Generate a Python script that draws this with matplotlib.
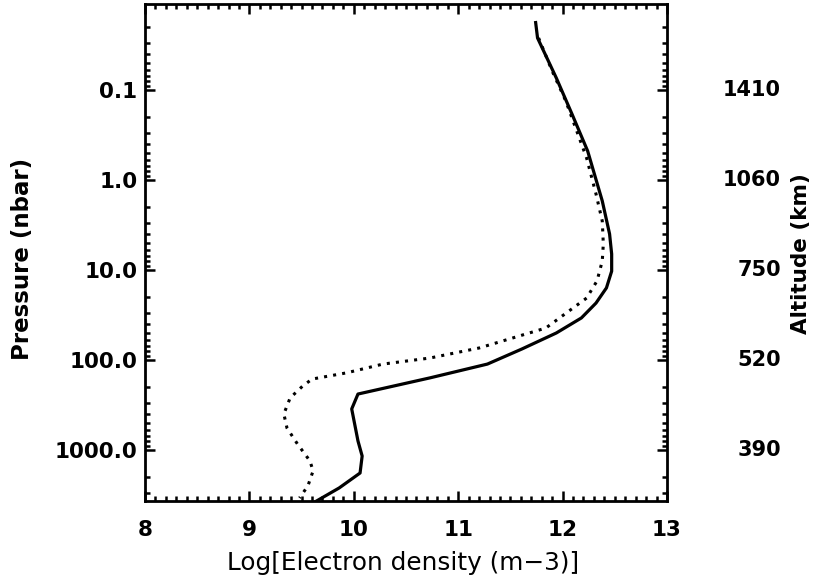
import numpy as np
import matplotlib
matplotlib.use("Agg")
import matplotlib.pyplot as plt
import matplotlib.transforms as mtransforms
from matplotlib.ticker import FixedLocator, LogLocator, MultipleLocator, NullFormatter

# ── Data ──────────────────────────────────────────────────────
# solid profile
solid_ne = [11.74, 11.76, 11.94, 12.09, 12.24, 12.38, 12.45, 12.47, 12.47, 12.42,
            12.32, 12.18, 11.94, 11.61, 11.28, 10.73, 10.04, 9.98, 10.04, 10.08,
            10.06, 9.86, 9.61]
solid_p = [0.0171, 0.0264, 0.0736, 0.185, 0.476, 1.71, 3.98, 6.64, 10.3, 15.8,
           23.3, 34.1, 50.1, 75.5, 111, 158, 239, 350, 794, 1167,
           1803, 2642, 3882]

# dotted profile
dotted_ne = [11.77, 11.90, 12.03, 12.23, 12.32, 12.38, 12.39, 12.38, 12.33, 12.23,
             12.06, 11.84, 11.52, 11.20, 10.73, 10.28, 9.93, 9.60, 9.51, 9.39,
             9.33, 9.36, 9.46, 9.58, 9.61, 9.56, 9.48]
dotted_p = [0.0264, 0.0615, 0.132, 0.570, 1.43, 2.86, 5.14, 7.94, 13.2, 20.5,
            28.6, 44.1, 57.0, 73.6, 95.1, 111, 139, 163, 195, 264,
            398, 570, 857, 1324, 1710, 2512, 3412]

p_ticks = [0.1, 1.0, 10.0, 100.0, 1000.0]
p_labels = ["0.1", "1.0", "10.0", "100.0", "1000.0"]
alt_labels = ["1410", "1060", "750", "520", "390"]
x_ticks = [8, 9, 10, 11, 12, 13]

# ── Figure ────────────────────────────────────────────────────
fig = plt.figure(figsize=(8.19, 5.81), dpi=100)
ax = fig.add_axes([145 / 819, 1 - 501 / 581, 522 / 819, 497 / 581])

ax.plot(dotted_ne, dotted_p, color="black", lw=2.2, linestyle=(0, (1, 2)),
        dash_capstyle="butt")
ax.plot(solid_ne, solid_p, color="black", lw=2.3, solid_capstyle="butt")

ax.set_yscale("log")
ax.set_xlim(8, 13)
ax.set_ylim(3690, 0.01107)

ax.xaxis.set_major_locator(FixedLocator(x_ticks))
ax.xaxis.set_minor_locator(MultipleLocator(0.1))
ax.yaxis.set_major_locator(FixedLocator(p_ticks))
ax.yaxis.set_minor_locator(LogLocator(base=10, subs=np.arange(2, 10)))
ax.yaxis.set_minor_formatter(NullFormatter())
ax.set_yticklabels(p_labels)
ax.set_xticklabels([str(t) for t in x_ticks])

for s in ax.spines.values():
    s.set_linewidth(2.0)
ax.tick_params(which="both", direction="in", top=True, right=True, width=1.8)
ax.tick_params(which="major", length=7)
ax.tick_params(which="minor", length=3.5)
ax.tick_params(axis="x", which="major", pad=14, labelsize=15.5)
ax.tick_params(axis="y", which="major", pad=5.5, labelsize=15.5)
for lbl in ax.get_xticklabels() + ax.get_yticklabels():
    lbl.set_fontweight("bold")

# axis titles
fig.text(403 / 819, 1 - 570 / 581, "Log[Electron density (m\u22123)]",
         ha="center", va="baseline", fontsize=17.8)
fig.text(23 / 819, 1 - 259 / 581, "Pressure (nbar)", rotation=90,
         ha="center", va="center", fontsize=16.5, fontweight="bold")

# altitude labels on the right
trans = mtransforms.blended_transform_factory(fig.transFigure, ax.transData)
for p, a in zip(p_ticks, alt_labels):
    ax.text(781 / 819, p, a, transform=trans, ha="right", va="center",
            fontsize=15, fontweight="bold")
fig.text(801 / 819, 1 - 254 / 581, "Altitude (km)", rotation=90, ha="center",
         va="center", fontsize=15.5, fontweight="bold")

fig.savefig("out.png", dpi=100)
